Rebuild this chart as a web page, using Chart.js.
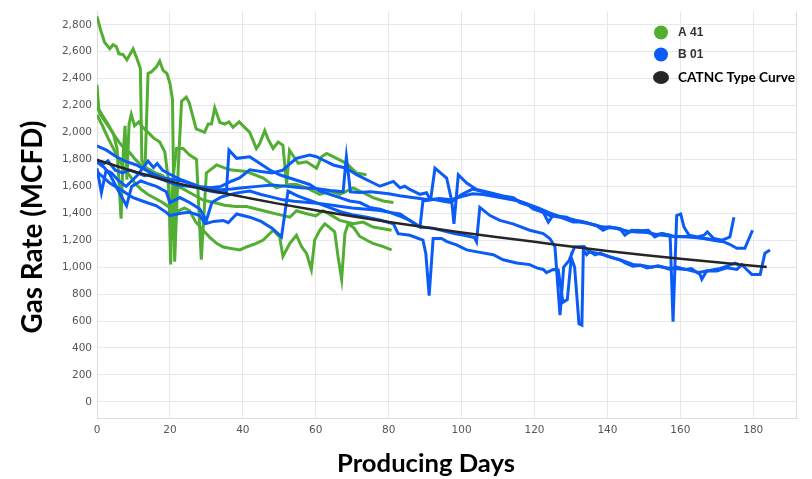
<!DOCTYPE html>
<html><head><meta charset="utf-8">
<script src="https://cdn.jsdelivr.net/npm/chart.js@4/dist/chart.umd.min.js"></script>
<style>html,body{margin:0;padding:0;background:#fff;overflow:hidden}canvas{display:block}</style>
</head><body>
<canvas id="c" width="812" height="479"></canvas>
<script>
// ---------- text ----------
const seriesNames = ['A 41', 'B 01', 'CATNC Type Curve'];
const xTitle = 'Producing Days';
const yTitle = 'Gas Rate (MCFD)';
const xTickValues = [0, 20, 40, 60, 80, 100, 120, 140, 160, 180];
const yTickValues = [0, 200, 400, 600, 800, 1000, 1200, 1400, 1600, 1800, 2000, 2200, 2400, 2600, 2800];

// ---------- A 41 wells [day, MCFD] ----------
const a41_w1 = [[0,2863],[1,2760],[2.1,2668],[3.5,2622],[4.4,2652],[5.3,2638],[6,2584],[7.1,2580],[8.2,2540],[9.9,2620],[10.8,2560],[11.9,2475],[12.3,1790],[13.2,1760],[14,2438],[14.9,2450],[16.3,2487],[17.2,2530],[18.1,2463],[19.2,2438],[20,2365],[20.7,2245],[21.3,1040],[22.3,1750],[23.2,2232],[24.5,2263],[25.3,2220],[27.2,2026],[29.5,2001],[30.5,2063],[31.4,2063],[32.3,2183],[33.7,2074],[35,2063],[36.2,2079],[37.3,2038],[39,2079],[40.5,2038],[41.9,2001],[43.7,1881],[44.6,1917],[46,2014],[46.9,1953],[48.3,1881],[49.7,1929],[51,1905],[51.5,1759],[52,1614],[52.8,1868],[55.2,1771],[57.5,1783],[60.2,1735],[61.6,1820],[63,1844],[65.7,1808],[68.4,1771],[71.2,1699],[73.9,1687]];
const a41_w2 = [[0,2354],[0.5,2172],[1.6,2123],[3,2063],[4.5,1990],[5.5,1880],[6.6,1360],[7.2,1850],[7.7,2050],[8.2,1650],[8.8,2063],[9.4,2135],[10.3,2050],[11.5,2079],[12.5,2040],[14,2001],[15.5,1960],[17.2,1929],[18.6,1856],[19.7,1620],[20.2,1020],[20.8,1650],[21.8,1881],[23.6,1881],[25.4,1832],[27.3,1800],[28.6,1055],[30,1700],[32.8,1759],[36.4,1723],[41,1710],[45.6,1662],[49.2,1589],[50.5,1600],[52.9,1614],[54.7,1614],[57.5,1589],[61.1,1541],[63.9,1565],[66.6,1541],[70.3,1589],[72.5,1560],[75.7,1516],[78.5,1492],[81.3,1480]];
const a41_w3 = [[0,2190],[1,2130],[2,2090],[3,2050],[4.5,1990],[6,1930],[7.5,1880],[9,1850],[10.5,1800],[12,1760],[14,1730],[16,1700],[18,1680],[19.5,1640],[20.6,1200],[21.5,1600],[23,1590],[25,1560],[27,1530],[29,1500],[32,1480],[35,1460],[38,1450],[41,1450],[44,1430],[47,1410],[50,1390],[52.9,1371],[54.7,1419],[57,1400],[60,1380],[62,1419],[64,1390],[66.6,1347],[70.3,1322],[73,1335],[75.7,1298],[78.5,1286],[80.8,1274]];
const a41_w4 = [[0,2130],[1.5,2050],[3,1960],[4.5,1880],[6,1800],[7.5,1730],[9,1680],[10.5,1620],[12,1580],[14,1540],[16,1510],[18,1480],[19.5,1450],[21,1430],[22.5,1420],[24,1440],[25.4,1419],[27,1340],[29.1,1274],[31,1220],[32.8,1177],[34.6,1150],[36.4,1140],[39.2,1128],[41,1150],[43.7,1177],[45.6,1201],[48.3,1274],[50.1,1225],[51,1080],[52.9,1177],[54.7,1237],[56.1,1153],[57.5,1100],[58.8,983],[59.7,1201],[61.1,1274],[62.5,1322],[64,1290],[65.2,1262],[66.1,1080],[67.1,910],[68,1249],[68.9,1322],[70.5,1290],[72,1230],[74,1200],[75.7,1177],[78.5,1153],[80.8,1128]];

// ---------- B 01 wells [day, MCFD] ----------
const b01_w1 = [[0,1900],[2.6,1869],[5.3,1820],[8.1,1783],[10.8,1759],[14.9,1699],[18.1,1662],[20.9,1650],[23.6,1637],[26.3,1614],[29.1,1577],[32,1560],[34.6,1553],[35.5,1560],[36.2,1869],[38.3,1808],[41.9,1820],[44.6,1771],[47.3,1723],[50.1,1686],[52.8,1662],[55.6,1638],[58.3,1614],[61.1,1565],[63.9,1541],[66.6,1516],[69.3,1492],[72.1,1480],[74.8,1444],[77.6,1430],[80.3,1407],[83,1380],[85.8,1347],[88.6,1298],[89.4,1492],[91.5,1500],[92.7,1735],[95.9,1662],[97.3,1492],[97.9,1322],[99.1,1686],[101.4,1625],[104.1,1577],[107.8,1553],[111.4,1528],[114.2,1516],[116,1480],[118.7,1456],[121.5,1419],[124.2,1383],[127,1371],[130.6,1335],[132.4,1335],[135.2,1322],[138,1300],[140.6,1298],[143.4,1286],[146,1260],[148,1274],[151,1260],[153,1240],[155,1249],[158,1230],[160,1225],[163,1230],[166.5,1213],[169,1200],[171.8,1189],[173.5,1170],[175.5,1140],[177.7,1140],[179.8,1274]];
const b01_w2 = [[0,1735],[1.2,1553],[2.5,1720],[4,1700],[6,1640],[8,1600],[11,1680],[14,1788],[15.5,1740],[16.5,1770],[18,1720],[20,1690],[23,1650],[26,1620],[28,1600],[31,1590],[34,1600],[37,1640],[39.1,1662],[41.9,1723],[45,1710],[48,1700],[51,1720],[53,1770],[54.7,1808],[58.3,1832],[60.2,1820],[62,1796],[64.8,1759],[68.4,1735],[71.2,1687],[74.8,1638],[77.6,1601],[81.3,1637],[83.1,1589],[84.4,1601],[85.8,1577],[88.6,1541],[90.4,1553],[91.3,1504],[93,1500],[95,1490],[97,1480],[100,1540],[103,1580],[106,1560],[109,1540],[112,1520],[115,1500],[118,1468],[119.6,1432],[122.4,1407],[123.8,1335],[125,1383],[128.8,1371],[129.7,1359],[131.5,1347],[133,1340],[135.2,1322],[137,1310],[138.8,1274],[140.6,1298],[143.4,1286],[144.8,1237],[146.6,1274],[149,1270],[151.2,1274],[153,1225],[154.9,1249],[157.2,1237],[158,595],[159,1383],[160.1,1395],[161,1298],[162.4,1237],[164.7,1225],[166.5,1237],[167.4,1262],[169.2,1213],[171.4,1201],[172.7,1213],[173.6,1225],[174.7,1371]];
const b01_w3 = [[0,1780],[2,1740],[3.5,1690],[6,1560],[8.1,1456],[9.5,1600],[12,1640],[14,1620],[16.3,1600],[19,1560],[20,1480],[22.7,1517],[25.4,1480],[28.2,1432],[30,1347],[31.5,1480],[34,1520],[38,1550],[41.9,1565],[45,1540],[48,1520],[51,1500],[54,1490],[58,1480],[62,1470],[66,1455],[70,1440],[74,1430],[77.6,1420],[80.3,1407],[83.1,1395],[85.8,1347],[88.6,1298],[92,1290],[95,1270],[98,1250],[101,1235],[103.5,1220],[104.1,1189],[105,1444],[107.8,1383],[110.5,1347],[114.1,1322],[118.7,1274],[122.4,1249],[124.2,1213],[125.6,1153],[127,643],[128,1000],[129.5,1050],[131,1150],[133.6,1153],[135,1116],[137,1104],[139,1092],[142,1065],[144,1050],[147,1020],[150,1010],[152,1000],[154,1010],[157,985],[159,1000],[162,980],[165,960],[168,975],[171,990],[173,1010],[175,1030],[176,1020]];
const b01_w4 = [[0,1710],[3.5,1625],[7.1,1565],[9.9,1516],[13.6,1480],[16.3,1456],[19,1407],[20,1383],[23,1400],[25.4,1407],[28.2,1383],[29.7,1322],[32,1340],[34.6,1347],[36,1330],[38.3,1395],[41.9,1371],[45,1340],[48,1290],[50.6,1225],[52.4,1565],[55,1530],[58,1500],[61,1470],[64,1440],[67,1410],[70,1390],[74,1370],[77.6,1350],[81.3,1322],[82.6,1249],[85.8,1237],[89.4,1201],[90.2,1100],[91.1,789],[92.2,1213],[94.5,1213],[96,1190],[98.6,1165],[101.4,1128],[105,1110],[108.7,1092],[111.4,1055],[115.1,1031],[118.7,1019],[120.6,995],[122.4,983],[123.3,959],[125.1,983],[126.5,980],[127.8,740],[129,760],[130.1,1068],[131,1000],[132.2,580],[133,570],[133.4,1128],[134.3,1092],[135.2,1116],[136.6,1092],[138,1104],[140,1080],[143.4,1055],[145,1030],[147,1007],[149,1015],[150.8,995],[153.5,1007],[156.3,995],[158,990],[161.7,983],[163,990],[165.4,946],[165.9,910],[167.2,971],[170,971],[172.7,995],[175.5,983],[176.9,1019],[178.2,983],[179.6,946],[181.9,946],[183.2,1104],[184.6,1128]];
const b01_w5 = [[0,1800],[1.5,1760],[3,1790],[5,1720],[7,1700],[9,1720],[11,1700],[13,1680],[15,1690],[17,1660],[19,1640],[22,1610],[25,1600],[28,1590],[31,1580],[34,1575],[37,1580],[40,1590],[44,1600],[48,1610],[52,1600],[56,1590],[60,1585],[64,1570],[67.5,1560],[68.4,1820],[69.5,1560],[72,1555],[75,1560],[77.6,1553],[80,1545],[83,1530],[86,1520],[88.6,1510],[91,1500],[94,1510],[97,1500],[100,1525],[103,1545],[106,1540],[109,1525],[112,1510],[115,1495],[118,1470],[121,1440],[124,1405],[127,1375],[130,1350],[133,1338],[136,1318],[139,1295],[142,1290],[145,1268],[148,1262],[151,1258],[154,1240],[157,1232],[160,1228],[163,1222],[166,1215],[169,1205],[171,1195]];

// ---------- type curve [day, MCFD] ----------
const typeCurve = [[0,1796],[10,1712],[20,1637],[30,1575],[40,1522],[50,1470],[60,1422],[70,1378],[80,1336],[90,1296],[100,1258],[110,1222],[120,1188],[130,1153],[140,1120],[150,1090],[160,1062],[170,1036],[183.7,1002]];

const aWells = [a41_w1, a41_w2, a41_w3, a41_w4];
const bWells = [b01_w1, b01_w2, b01_w3, b01_w4, b01_w5];

const GREEN = '#52ae32', BLUE = '#0b5cf6', BLACK = '#262626';
const pts = arr => arr.map(p => ({x: p[0], y: p[1]}));

const datasets = [];
datasets.push({label: seriesNames[2], data: pts(typeCurve), borderColor: BLACK, borderWidth: 2.5, pointRadius: 0, cubicInterpolationMode: 'monotone', order: 0});
bWells.forEach((w, i) => datasets.push({label: seriesNames[1], data: pts(w), borderColor: BLUE, borderWidth: 3, pointRadius: 0, tension: 0, order: 1}));
aWells.forEach((w, i) => datasets.push({label: seriesNames[0], data: pts(w), borderColor: GREEN, borderWidth: 3, pointRadius: 0, tension: 0, order: 2}));

function fitFont(ctx, text, family, weight, target) {
  ctx.font = weight + ' 100px ' + family;
  const w = ctx.measureText(text).width;
  const size = 100 * target / w;
  ctx.font = weight + ' ' + size.toFixed(2) + 'px ' + family;
  return size;
}

const decor = {
  id: 'decor',
  beforeDatasetsDraw(chart) {
    const ctx = chart.ctx, a = chart.chartArea;
    ctx.save();
    ctx.strokeStyle = '#dedede'; ctx.lineWidth = 1;
    ctx.beginPath(); ctx.moveTo(Math.round(a.right) - 0.5, a.top); ctx.lineTo(Math.round(a.right) - 0.5, a.bottom); ctx.stroke();
    ctx.restore();
  },
  afterDraw(chart) {
    const ctx = chart.ctx;
    ctx.save();
    // axis titles
    ctx.fillStyle = '#000';
    ctx.textAlign = 'center'; ctx.textBaseline = 'middle';
    fitFont(ctx, xTitle, 'Lato', 'bold', 178);
    ctx.fillText(xTitle, 426, 464);
    ctx.save();
    ctx.translate(33, 227);
    ctx.rotate(-Math.PI / 2);
    fitFont(ctx, yTitle, 'Lato', 'bold', 213);
    ctx.fillText(yTitle, 0, 0);
    ctx.restore();
    // legend
    const items = [
      {name: seriesNames[0], color: GREEN, y: 32.5, font: 'bold 12px "Liberation Sans", Arial, sans-serif', fill: '#333'},
      {name: seriesNames[1], color: BLUE, y: 54.5, font: 'bold 12px "Liberation Sans", Arial, sans-serif', fill: '#333'},
      {name: seriesNames[2], color: BLACK, y: 77.5, font: null, fill: '#000'}
    ];
    items.forEach((it, i) => {
      ctx.fillStyle = it.color;
      ctx.beginPath();
      if (i === 2) ctx.ellipse(661, it.y, 8, 6.5, 0, 0, Math.PI * 2);
      else ctx.arc(661, it.y, 7, 0, Math.PI * 2);
      ctx.fill();
      ctx.fillStyle = it.fill;
      ctx.textAlign = 'left'; ctx.textBaseline = 'middle';
      if (it.font) ctx.font = it.font; else fitFont(ctx, it.name, 'Lato', 'bold', 117);
      ctx.fillText(it.name, 678, it.y + 0.5);
    });
    ctx.restore();
  }
};

new Chart(document.getElementById('c'), {
  type: 'line',
  data: {datasets},
  plugins: [decor],
  options: {
    responsive: false,
    animation: false,
    devicePixelRatio: 1,
    layout: {padding: {left: 0, right: 15, top: 3, bottom: 0}},
    plugins: {legend: {display: false}, tooltip: {enabled: false}, title: {display: false}},
    scales: {
      x: {
        type: 'linear', min: 0, max: 192,
        afterBuildTicks: s => { s.ticks = xTickValues.map(v => ({value: v})); },
        afterFit: s => { s.height = 61; },
        grid: {color: '#e8e8e8', lineWidth: 1, drawTicks: false},
        border: {display: true, color: '#dcdcdc'},
        ticks: {padding: 6, maxRotation: 0, autoSkip: false, color: '#555', font: {family: '"DejaVu Sans", sans-serif', size: 10.5}, callback: v => String(v)}
      },
      y: {
        type: 'linear', min: -120, max: 2900,
        afterBuildTicks: s => { s.ticks = yTickValues.map(v => ({value: v})); },
        afterFit: s => { s.width = 97; },
        grid: {color: '#e8e8e8', lineWidth: 1, drawTicks: false},
        border: {display: true, color: '#dcdcdc'},
        ticks: {padding: 5, autoSkip: false, color: '#555', font: {family: '"DejaVu Sans", sans-serif', size: 10.5}, callback: v => v.toLocaleString('en-US')}
      }
    }
  }
});
</script>
</body></html>
